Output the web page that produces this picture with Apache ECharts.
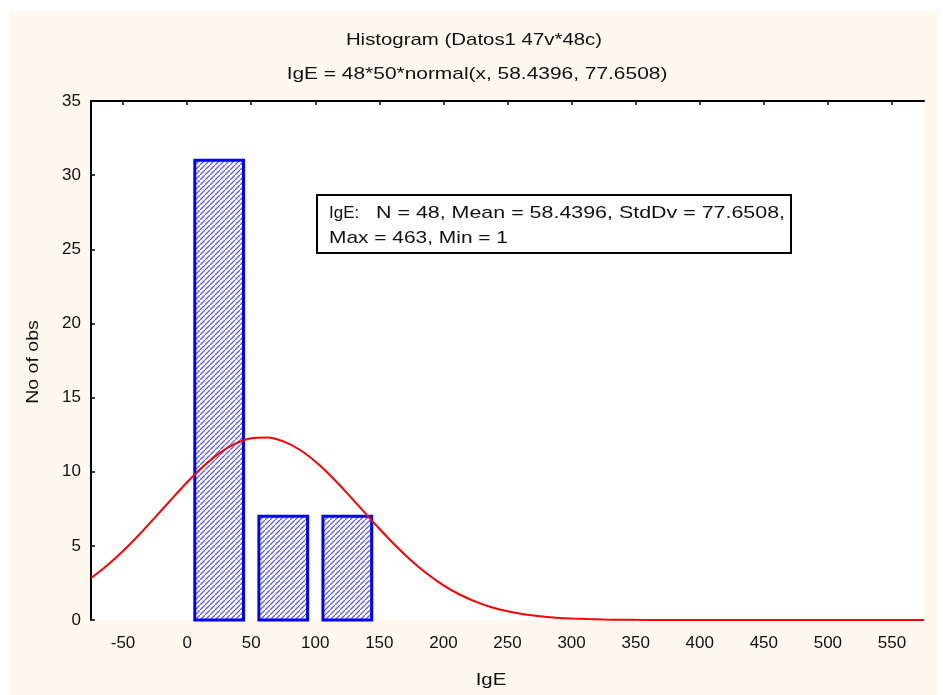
<!DOCTYPE html>
<html>
<head>
<meta charset="utf-8">
<script src="https://cdn.jsdelivr.net/npm/echarts@6/dist/echarts.min.js"></script>
<style>
  html, body { margin: 0; padding: 0; background: #ffffff; }
  #chart { width: 943px; height: 695px; }
</style>
</head>
<body>
<div id="chart"></div>
<script>
// Histogram bins of IgE (lower edge, upper edge, count)
const binStart = [0, 50, 100];
const binEnd = [50, 100, 150];
const binCounts = [31, 7, 7];

// Fitted normal curve: 48*50*normal(x, 58.4396, 77.6508)
const curveX = [-75, -62.5, -50, -37.5, -25, -12.5, 0, 12.5, 25, 37.5, 50, 62.5, 75, 87.5, 100,
  112.5, 125, 137.5, 150, 162.5, 175, 187.5, 200, 212.5, 225, 237.5, 250, 262.5, 275, 287.5,
  300, 312.5, 325, 337.5, 350, 375, 400, 450, 500, 550, 575];
const curveY = [2.82, 3.67, 4.65, 5.75, 6.92, 8.12, 9.29, 10.35, 11.24, 11.89, 12.26, 12.31, 12.05, 11.50, 10.69,
  9.68, 8.54, 7.34, 6.15, 5.02, 4.00, 3.10, 2.34, 1.72, 1.24, 0.86, 0.59, 0.39, 0.25, 0.16,
  0.10, 0.06, 0.03, 0.02, 0.01, 0, 0, 0, 0, 0, 0];

const xTicks = [-50, 0, 50, 100, 150, 200, 250, 300, 350, 400, 450, 500, 550];
const titleLine1 = 'Histogram (Datos1 47v*48c)';
const titleLine2 = 'IgE = 48*50*normal(x, 58.4396, 77.6508)';
const statsLabel = 'IgE:';
const statsLine1 = 'N = 48, Mean = 58.4396, StdDv = 77.6508,';
const statsLine2 = 'Max = 463, Min = 1';

const FONT = '"Liberation Sans", Arial, sans-serif';
const FS = 17;

// diagonal hatch fill for the bars
function makeHatch() {
  const s = 5;
  const c = document.createElement('canvas');
  c.width = s; c.height = s;
  const g = c.getContext('2d');
  g.fillStyle = '#ffffff';
  g.fillRect(0, 0, s, s);
  g.strokeStyle = '#5c5cff';
  g.lineWidth = 1.25;
  g.beginPath();
  g.moveTo(-1, s + 1); g.lineTo(s + 1, -1);
  g.moveTo(-2, 1); g.lineTo(1, -2);
  g.moveTo(s - 1, s + 2); g.lineTo(s + 2, s - 1);
  g.stroke();
  return c;
}
const hatch = makeHatch();

const barData = binStart.map((lo, i) => [lo, binEnd[i], binCounts[i]]);
const curveData = curveX.map((x, i) => [x, curveY[i]]);

const chart = echarts.init(document.getElementById('chart'), null, { renderer: 'canvas' });

const axisText = { fontFamily: FONT, fontSize: FS, color: '#111' };
const font = FS + 'px ' + FONT;

// wide-set text helper
function label(text, x, y, sx, align) {
  return {
    type: 'text', x: x, y: y, scaleX: sx, z: 11,
    style: { text: text, font: font, fill: '#111', align: align || 'left', verticalAlign: 'middle' }
  };
}

chart.setOption({
  backgroundColor: '#ffffff',
  animation: false,
  grid: {
    left: 91, right: 19, top: 101, bottom: 75,
    show: true, backgroundColor: '#ffffff', borderWidth: 0
  },
  xAxis: [
    {
      type: 'value', min: -75, max: 575, position: 'bottom',
      axisLine: { show: false },
      axisTick: { show: false },
      splitLine: { show: false },
      axisLabel: Object.assign({ customValues: xTicks, margin: 15 }, axisText)
    },
    {
      type: 'value', min: -75, max: 575, position: 'top',
      axisLine: { show: true, onZero: false, lineStyle: { color: '#000', width: 2 } },
      axisTick: { show: true, inside: true, length: 4, customValues: xTicks, lineStyle: { color: '#000', width: 1.5 } },
      splitLine: { show: false },
      axisLabel: { show: false }
    }
  ],
  yAxis: {
    type: 'value', min: 0, max: 35, interval: 5,
    axisLine: { show: true, onZero: false, lineStyle: { color: '#000', width: 2 } },
    axisTick: { show: true, inside: true, length: 4, lineStyle: { color: '#000', width: 1.5 } },
    splitLine: { show: false },
    axisLabel: Object.assign({ margin: 10 }, axisText)
  },
  series: [
    {
      type: 'custom',
      xAxisIndex: 0,
      data: barData,
      encode: { x: [0, 1], y: 2 },
      z: 2,
      renderItem: function (params, api) {
        const lo = api.value(0), hi = api.value(1), n = api.value(2);
        const inset = (hi - lo) * 0.12;
        const p0 = api.coord([lo + inset, n]);
        const p1 = api.coord([hi - inset, 0]);
        return {
          type: 'rect',
          shape: { x: p0[0], y: p0[1], width: p1[0] - p0[0], height: p1[1] - p0[1] },
          style: { fill: { image: hatch, repeat: 'repeat' }, stroke: '#0000ff', lineWidth: 3 }
        };
      }
    },
    {
      type: 'line',
      xAxisIndex: 0,
      data: curveData,
      smooth: 0.3,
      showSymbol: false,
      z: 3,
      lineStyle: { color: '#ff0000', width: 2 }
    }
  ],
  graphic: [
    { type: 'rect', z: -100, silent: true, shape: { x: 10, y: 11, width: 927, height: 684 }, style: { fill: '#fef9ee' } },
    label(titleLine1, 474, 40, 1.2, 'center'),
    label(titleLine2, 477, 74, 1.23, 'center'),
    { type: 'rect', z: 10, shape: { x: 317, y: 195, width: 474, height: 58 }, style: { fill: '#ffffff', stroke: '#000', lineWidth: 2 } },
    label(statsLabel, 329, 213, 1.0),
    label(statsLine1, 376, 213, 1.26),
    label(statsLine2, 329, 238, 1.23),
    label('IgE', 491, 680, 1.2, 'center'),
    { type: 'text', x: 33, y: 362, rotation: Math.PI / 2, scaleX: 1.15, style: { text: 'No of obs', font: font, fill: '#111', align: 'center', verticalAlign: 'middle' } }
  ]
});
</script>
</body>
</html>
